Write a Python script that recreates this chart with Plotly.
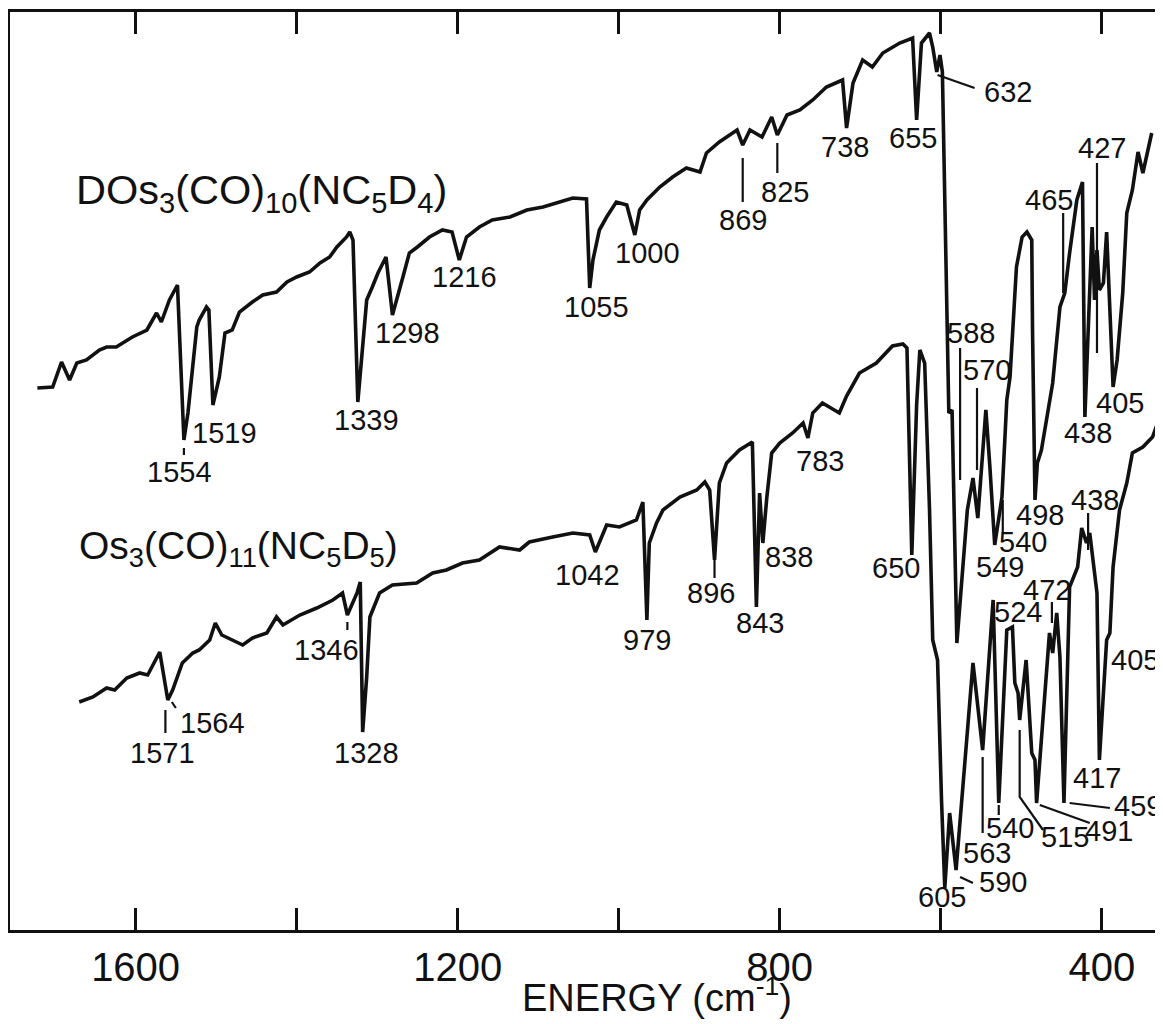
import plotly.graph_objects as go

# ---------------- data (wavenumber cm^-1, relative transmittance, arb.) ----------------
upper_wn = [1722, 1703, 1692, 1682, 1673, 1661, 1645, 1636, 1624, 1604, 1586, 1574, 1568, 1558, 1548,
            1540, 1535, 1524, 1521, 1512, 1509, 1504, 1496, 1489, 1480, 1471, 1455, 1442, 1425, 1412,
            1400, 1384, 1371, 1359, 1350, 1338, 1334, 1330, 1324, 1318, 1313, 1306, 1299, 1289, 1281,
            1268, 1260, 1250, 1235, 1219, 1207, 1198, 1189, 1173, 1157, 1135, 1114, 1094, 1073, 1057,
            1040, 1036, 1032, 1024, 1015, 1003, 990, 980, 974, 965, 949, 933, 916, 899, 891, 875, 853,
            846, 837, 822, 810, 803, 791, 775, 759, 742, 722, 717, 709, 697, 685, 672, 651, 635, 630,
            624, 614, 610, 605, 601, 598, 593, 590, 586, 580, 567, 560, 554, 544, 539, 533, 524, 518,
            514, 506, 499, 493, 487, 486, 483, 480, 475, 461, 452, 446, 440, 431, 424, 421, 412, 409,
            406, 403, 398, 394, 386, 381, 374, 369, 362, 355, 349, 344, 338]
upper_t = [542, 543, 568, 550, 567, 570, 580, 583, 583, 593, 600, 617, 608, 630, 645,
           490, 517, 603, 610, 623, 620, 525, 553, 597, 600, 618, 628, 635, 638, 648,
           653, 658, 667, 673, 683, 693, 698, 690, 528, 580, 630, 643, 657, 673, 615,
           653, 677, 683, 693, 700, 698, 670, 693, 703, 710, 713, 720, 723, 728, 732,
           731, 642, 670, 700, 713, 728, 725, 695, 720, 730, 743, 753, 762, 758, 777, 788, 800,
           785, 800, 793, 813, 795, 815, 820, 830, 843, 850, 802, 847, 870, 863, 877, 887, 892, 810,
           887, 897, 883, 858, 875, 858, 630, 517, 520, 287, 420, 452, 412, 520, 463, 385, 433, 530,
           553, 663, 693, 698, 690, 597, 430, 467, 480, 547, 623, 637, 677, 730, 748, 513, 703, 630,
           680, 640, 647, 698, 543, 570, 637, 717, 740, 778, 757, 777, 797]

lower_wn = [1670, 1653, 1636, 1626, 1611, 1595, 1585, 1570, 1560, 1554, 1542, 1529, 1521, 1508, 1501,
            1493, 1480, 1467, 1455, 1437, 1425, 1417, 1396, 1375, 1355, 1343, 1337, 1325, 1321, 1318,
            1313, 1309, 1297, 1281, 1251, 1231, 1214, 1194, 1173, 1148, 1123, 1111, 1082, 1057, 1036,
            1029, 1015, 999, 978, 970, 965, 962, 953, 945, 924, 903, 893, 887, 881, 875, 866, 850, 834,
            829, 825, 821, 816, 810, 800, 784, 771, 765, 759, 747, 726, 717, 701, 680, 660, 647, 642,
            636, 630, 626, 620, 614, 610, 604, 599, 595, 589, 581, 560, 548, 535, 528, 518, 511, 508,
            504, 502, 494, 487, 483, 481, 465, 461, 456, 452, 447, 440, 430, 425, 419, 415, 406, 403,
            394, 390, 386, 378, 369, 362, 349, 337, 326]
lower_t = [228, 233, 242, 240, 252, 257, 255, 278, 230, 240, 267, 277, 280, 290, 307,
           295, 290, 285, 292, 297, 313, 305, 315, 322, 330, 337, 315, 337, 348, 198,
           253, 313, 337, 345, 347, 357, 360, 367, 370, 383, 380, 388, 393, 397, 395,
           378, 405, 403, 410, 428, 310, 387, 407, 420, 433, 440, 448, 440, 370, 447, 467, 480, 488,
           323, 437, 387, 433, 477, 487, 497, 507, 492, 517, 527, 517, 534, 557, 567, 584, 586, 582,
           375, 525, 580, 567, 421, 290, 270, 128, 42, 117, 60, 267, 180, 330, 127, 300, 303, 247,
           237, 210, 270, 177, 170, 127, 297, 277, 317, 273, 127, 343, 363, 402, 387, 397, 337, 170,
           290, 297, 363, 420, 447, 477, 483, 493, 517]

# peak labels: text, wavenumber position, transmittance position
upper_labels = ["1554", "1519", "1339", "1298", "1216", "1055", "1000", "869", "825", "738", "655",
                "632", "588", "570", "549", "540", "498", "465", "427", "438", "405"]
upper_label_wn = [1545, 1489, 1313, 1262, 1191, 1027, 964, 846, 794, 719, 635,
                  517, 562, 543, 527, 498, 477, 465, 400, 417, 378]
upper_label_t = [458, 497, 510, 597, 653, 623, 677, 710, 738, 783, 792,
                 838, 597, 560, 363, 388, 415, 730, 782, 497, 527]

lower_labels = ["1571", "1564", "1346", "1328", "1042", "979", "896", "843", "838", "783", "650",
                "605", "590", "563", "540", "515", "491", "459", "417", "405", "472", "524", "438"]
lower_label_wn = [1566, 1504, 1363, 1313, 1039, 965, 885, 825, 788, 750, 655,
                  598, 523, 543, 514, 446, 391, 355, 406, 359, 468, 504, 409]
lower_label_t = [177, 207, 280, 177, 355, 290, 337, 307, 373, 469, 362,
                 33, 48, 77, 102, 93, 99, 124, 152, 270, 340, 318, 430]

# leader lines from peaks to their labels (wavenumber, transmittance) pairs
leader_segments = [
    [(1540, 482), (1540, 475)],
    [(846, 772), (846, 728)],
    [(803, 787), (803, 757)],
    [(604, 855), (558, 842)],
    [(576, 582), (576, 450)],
    [(555, 542), (555, 460)],
    [(523, 430), (523, 397)],
    [(448, 717), (448, 637)],
    [(406, 767), (406, 577)],
    [(1563, 220), (1563, 197)],
    [(1555, 228), (1550, 222)],
    [(1337, 308), (1337, 300)],
    [(881, 370), (881, 352)],
    [(576, 53), (560, 47)],
    [(548, 173), (548, 97)],
    [(528, 125), (528, 115)],
    [(502, 200), (502, 133), (473, 100)],
    [(477, 125), (415, 107)],
    [(440, 127), (390, 122)],
    [(462, 328), (462, 307)],
    [(417, 417), (417, 380)],
]

compound_names = ["DOs<sub>3</sub>(CO)<sub>10</sub>(NC<sub>5</sub>D<sub>4</sub>)",
                  "Os<sub>3</sub>(CO)<sub>11</sub>(NC<sub>5</sub>D<sub>5</sub>)"]
compound_wn = [1676, 1673]
compound_t = [738, 382]
compound_size = [41.5, 39]

tick_vals = [1600, 1200, 800, 400]
tick_text = ["1600", "1200", "800", "400"]
minor_step = 200
x_title = "ENERGY (cm<sup>-1</sup>)"

# ---------------- figure ----------------
FONT = "Liberation Sans"
INK = "#111111"

fig = go.Figure()
fig.add_trace(go.Scatter(x=upper_wn, y=upper_t, mode="lines",
                         line=dict(color=INK, width=3.6), hoverinfo="skip"))
fig.add_trace(go.Scatter(x=lower_wn, y=lower_t, mode="lines",
                         line=dict(color=INK, width=3.6), hoverinfo="skip"))

lx, ly = [], []
for seg in leader_segments:
    for (a, b) in seg:
        lx.append(a)
        ly.append(b)
    lx.append(None)
    ly.append(None)
fig.add_trace(go.Scatter(x=lx, y=ly, mode="lines", line=dict(color=INK, width=2.2),
                         hoverinfo="skip"))

annotations = []
for txt, xv, yv in list(zip(upper_labels, upper_label_wn, upper_label_t)) + \
        list(zip(lower_labels, lower_label_wn, lower_label_t)):
    annotations.append(dict(x=xv, y=yv, xref="x", yref="y", text=txt, showarrow=False,
                            font=dict(family=FONT, size=29, color=INK),
                            xanchor="center", yanchor="middle", borderpad=0))
for txt, xv, yv, sz in zip(compound_names, compound_wn, compound_t, compound_size):
    annotations.append(dict(x=xv, y=yv, xref="x", yref="y", text=txt, showarrow=False,
                            font=dict(family=FONT, size=sz, color=INK),
                            xanchor="left", yanchor="middle"))
annotations.append(dict(x=953, y=-0.071, xref="x", yref="paper", text=x_title,
                        showarrow=False, font=dict(family=FONT, size=38, color=INK),
                        xanchor="center", yanchor="middle", borderpad=0))

# the page body has an 8 px margin, so the figure is 8 px smaller and margins compensate
fig.update_layout(
    width=1155, height=1016,
    margin=dict(l=2, r=0, t=4, b=94),
    paper_bgcolor="white", plot_bgcolor="white",
    showlegend=False,
    annotations=annotations,
    xaxis=dict(range=[1756, 324], tickvals=tick_vals, ticktext=tick_text,
               ticks="inside", ticklen=22, tickwidth=2.5, tickcolor=INK,
               minor=dict(dtick=minor_step, tick0=0, ticks="inside", ticklen=22,
                          tickwidth=2.5, tickcolor=INK, showgrid=False),
               showline=True, linewidth=3, linecolor=INK, mirror="ticks",
               showgrid=False, zeroline=False,
               tickfont=dict(family=FONT, size=40, color=INK)),
    yaxis=dict(range=[0, 918], showline=True, linewidth=3, linecolor=INK, mirror=False,
               showgrid=False, zeroline=False, showticklabels=False, ticks=""),
)

fig.write_html("out.html")
